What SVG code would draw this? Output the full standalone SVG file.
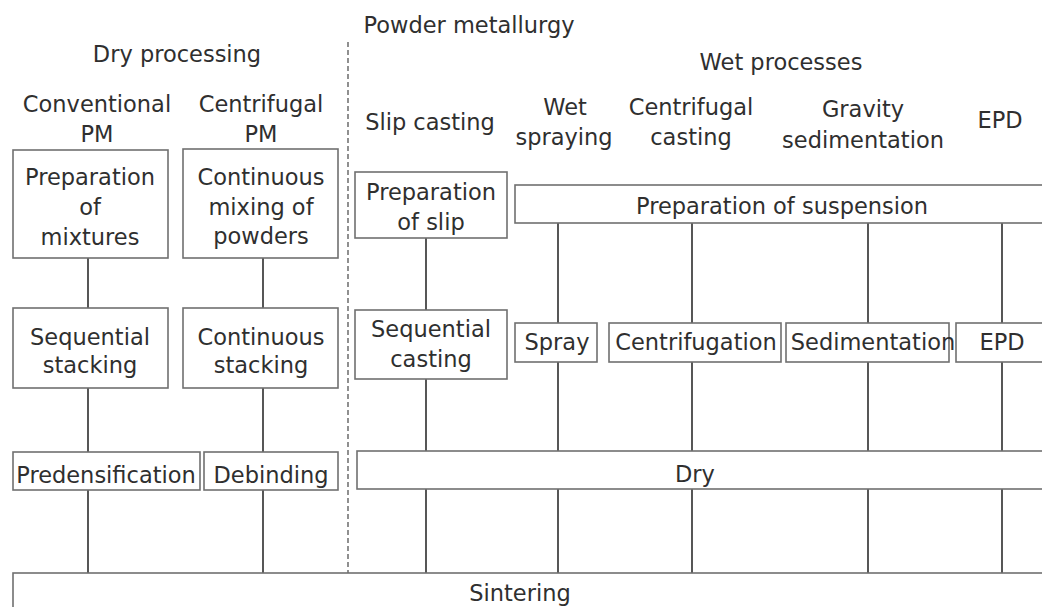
<svg xmlns="http://www.w3.org/2000/svg" width="1042" height="607" viewBox="0 0 1042 607">
<style>
text{font-family:"DejaVu Sans","Liberation Sans",sans-serif;font-size:22.5px;fill:#2f2f2f;text-anchor:middle}
.box{fill:#fff;stroke:#707070;stroke-width:1.6}
.ln{stroke:#454545;stroke-width:1.8;fill:none}
.dash{stroke:#555;stroke-width:1.3;stroke-dasharray:5 3;fill:none}
</style>
<rect width="1042" height="607" fill="#fff"/>
<g id="headers">
<text x="469" y="33">Powder metallurgy</text>
<text x="177" y="62">Dry processing</text>
<text x="781" y="70">Wet processes</text>
<text x="97" y="112">Conventional</text>
<text x="97" y="142">PM</text>
<text x="261" y="112">Centrifugal</text>
<text x="261" y="142">PM</text>
<text x="430" y="130">Slip casting</text>
<text x="565" y="115">Wet</text>
<text x="564" y="145">spraying</text>
<text x="691" y="115">Centrifugal</text>
<text x="691" y="145">casting</text>
<text x="863" y="117">Gravity</text>
<text x="863" y="148">sedimentation</text>
<text x="1000" y="128">EPD</text>
</g>
<g id="connectors">
<line class="dash" x1="348" y1="42" x2="348" y2="573"/>
<path class="ln" d="M88 258V308M88 388V452M88 490V573"/>
<path class="ln" d="M263 258V308M263 388V452M263 490V573"/>
<path class="ln" d="M426 238V310M426 379V451M426 489V573"/>
<path class="ln" d="M558 223V323M558 362V451M558 489V573"/>
<path class="ln" d="M692 223V323M692 362V451M692 489V573"/>
<path class="ln" d="M868 223V323M868 362V451M868 489V573"/>
<path class="ln" d="M1002 223V323M1002 362V451M1002 489V573"/>
</g>
<g id="prep-mixtures"><rect class="box" x="13" y="150" width="155" height="108"/><text x="90" y="185">Preparation</text><text x="90" y="215">of</text><text x="90" y="245">mixtures</text></g>
<g id="cont-mixing"><rect class="box" x="183" y="149" width="155" height="109"/><text x="261" y="185">Continuous</text><text x="261" y="215">mixing of</text><text x="261" y="244">powders</text></g>
<g id="seq-stacking"><rect class="box" x="13" y="308" width="155" height="80"/><text x="90" y="345">Sequential</text><text x="90" y="373">stacking</text></g>
<g id="cont-stacking"><rect class="box" x="183" y="308" width="155" height="80"/><text x="261" y="345">Continuous</text><text x="261" y="373">stacking</text></g>
<g id="predensification"><rect class="box" x="13" y="452" width="187" height="38"/><text x="106" y="483">Predensification</text></g>
<g id="debinding"><rect class="box" x="204" y="452" width="134" height="38"/><text x="271" y="483">Debinding</text></g>
<g id="prep-slip"><rect class="box" x="355" y="172" width="152" height="66"/><text x="431" y="200">Preparation</text><text x="431" y="230">of slip</text></g>
<g id="seq-casting"><rect class="box" x="355" y="310" width="152" height="69"/><text x="431" y="337">Sequential</text><text x="431" y="367">casting</text></g>
<g id="prep-suspension"><rect class="box" x="515" y="185" width="540" height="38"/><text x="782" y="214">Preparation of suspension</text></g>
<g id="spray"><rect class="box" x="515" y="323" width="82" height="39"/><text x="557" y="350">Spray</text></g>
<g id="centrifugation"><rect class="box" x="609" y="323" width="172" height="39"/><text x="696" y="350">Centrifugation</text></g>
<g id="sedimentation"><rect class="box" x="786" y="323" width="163" height="39"/><text x="873" y="350">Sedimentation</text></g>
<g id="epd"><rect class="box" x="956" y="323" width="100" height="39"/><text x="1002" y="350">EPD</text></g>
<g id="dry"><rect class="box" x="357" y="451" width="700" height="38"/><text x="695" y="482">Dry</text></g>
<g id="sintering"><rect class="box" x="13" y="573" width="1045" height="50"/><text x="520" y="601">Sintering</text></g>
</svg>
